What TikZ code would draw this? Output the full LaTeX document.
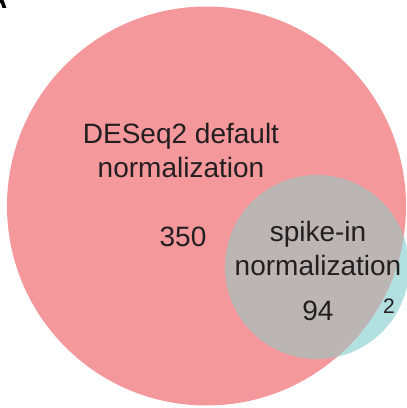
\documentclass[tikz,border=0pt]{standalone}
\usepackage{fontspec}
\setmainfont{Liberation Sans}
\usepackage{xcolor}
\usepackage{tikz}

\definecolor{defpink}{HTML}{F4989B}
\definecolor{spiketeal}{HTML}{B2E0E1}
\definecolor{overlapgray}{HTML}{BBB6B4}
\definecolor{labeltext}{HTML}{231F20}

\begin{document}
\begin{tikzpicture}[
      x=1pt, y=-1pt,
      setlabel/.style={text=labeltext, inner sep=0pt, align=center, anchor=base,
        font=\fontsize{28}{34}\selectfont},
      count/.style={text=labeltext, inner sep=0pt, anchor=base,
        font=\fontsize{28}{34}\selectfont},
      small count/.style={count, font=\fontsize{21}{25}\selectfont}
    ]
      \useasboundingbox (0,0) rectangle (407,408);
      \clip (0,0) rectangle (407,408);
      % the two sets
      \fill[spiketeal] (317,267) circle[radius=92];
      \fill[defpink] (206.5,206) circle[radius=199.5];
      \begin{scope}
        \clip (206.5,206) circle[radius=199.5];
        \fill[overlapgray] (317,267) circle[radius=92];
      \end{scope}
      % labels
      \node[setlabel] (deseq) at (181,177) {DESeq2 default\\normalization};
      \node[setlabel] (spike) at (318,275) {spike-in\\normalization};
      \node[count] (only-deseq) at (183,246) {350};
      \node[count] (both) at (318,320) {94};
      \node[small count] (only-spike) at (389,313) {2};
      \node[font=\fontsize{28}{34}\selectfont\bfseries, inner sep=0pt, anchor=base east] (panel) at (7.5,8) {A};
    \end{tikzpicture}
\end{document}
